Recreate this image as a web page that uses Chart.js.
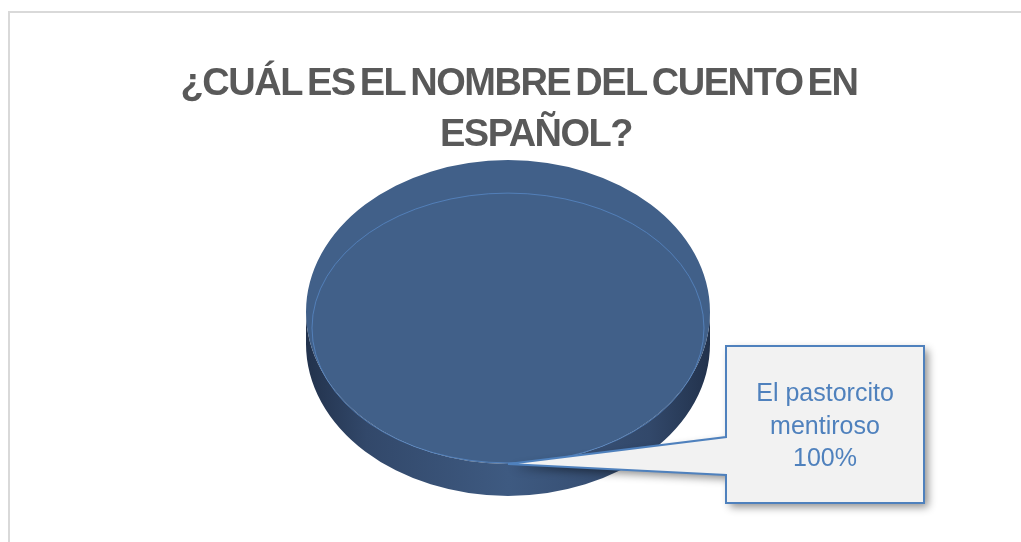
<!DOCTYPE html>
<html>
<head>
<meta charset="utf-8">
<script src="https://cdn.jsdelivr.net/npm/chart.js@4/dist/chart.umd.min.js"></script>
<style>
  html, body { margin: 0; padding: 0; background: #fff; overflow: hidden; }
  #wrap { position: relative; width: 1021px; height: 542px; }
  #frame { position: absolute; left: 8px; top: 11px; width: 1040px; height: 560px; border: 2px solid #d9d9d9; }
  canvas { position: absolute; left: 0; top: 0; }
</style>
</head>
<body>
<div id="wrap">
  <div id="frame"></div>
  <canvas id="pie" width="1021" height="542"></canvas>
</div>
<script>
'use strict';

// ── DATA ───────────────────────────────────────────────────────────────────
const TITLE_LINES = ['¿CUÁL ES EL NOMBRE DEL CUENTO EN', 'ESPAÑOL?'];
const LABELS = ['El pastorcito mentiroso'];
const LABEL_LINES = [['El pastorcito', 'mentiroso']];
const VALUES = [100];

// ── 3D LOOK ────────────────────────────────────────────────────────────────
const TILT = 0.752;   // vertical squash of the pie face
const DEPTH = 32;     // thickness of the side wall
const FACE = '#416089';
const LINE_BLUE = '#4f81bd';

// tight, heavy title like the office chart (lines are not centred alike there)
const chartTitle = {
  id: 'chartTitle',
  beforeDraw(chart) {
    const ctx = chart.ctx;
    const xs = [519, 536];
    const ys = [95, 146];
    ctx.save();
    ctx.font = 'bold 38px "Liberation Sans", Arial, sans-serif';
    ctx.fillStyle = '#595959';
    ctx.textAlign = 'center';
    ctx.textBaseline = 'alphabetic';
    if ('letterSpacing' in ctx) ctx.letterSpacing = '-1.5px';
    if ('wordSpacing' in ctx) ctx.wordSpacing = '-4px';
    TITLE_LINES.forEach((t, i) => ctx.fillText(t, xs[i], ys[i]));
    ctx.restore();
  }
};

const pie3d = {
  id: 'pie3d',
  beforeDatasetsDraw(chart) {
    const ctx = chart.ctx;
    const a = chart.getDatasetMeta(0).data[0];
    const cx = a.x, cy = a.y, rx = a.outerRadius, ry = rx * TILT;

    // side wall, darker toward the edges
    const g = ctx.createLinearGradient(cx - rx, 0, cx + rx, 0);
    g.addColorStop(0, '#22324c');
    g.addColorStop(0.15, '#32486a');
    g.addColorStop(0.5, '#3e5a81');
    g.addColorStop(0.85, '#32486a');
    g.addColorStop(1, '#22324c');
    ctx.save();
    ctx.beginPath();
    ctx.moveTo(cx - rx, cy);
    ctx.lineTo(cx - rx, cy + DEPTH);
    ctx.ellipse(cx, cy + DEPTH, rx, ry, 0, Math.PI, 0, true);
    ctx.lineTo(cx + rx, cy);
    ctx.ellipse(cx, cy, rx, ry, 0, 0, Math.PI, false);
    ctx.closePath();
    ctx.fillStyle = g;
    ctx.fill();
    ctx.restore();

    // squash the face into an ellipse
    ctx.save();
    ctx.translate(0, cy);
    ctx.scale(1, TILT);
    ctx.translate(0, -cy);
  },
  afterDatasetsDraw(chart) {
    const ctx = chart.ctx;
    ctx.restore();
    const a = chart.getDatasetMeta(0).data[0];
    const rx = a.outerRadius, ry = rx * TILT;
    // thin bevel edge on the face
    ctx.save();
    ctx.beginPath();
    ctx.ellipse(a.x, a.y + 16, rx - 6, ry - 17, 0, 0, Math.PI * 2);
    ctx.strokeStyle = 'rgba(88,138,200,0.75)';
    ctx.lineWidth = 1;
    ctx.stroke();
    ctx.restore();
  }
};

// ── CALLOUT LABEL ──────────────────────────────────────────────────────────
const callout = {
  id: 'callout',
  afterDraw(chart) {
    const ctx = chart.ctx;
    const meta = chart.getDatasetMeta(0);
    const total = VALUES.reduce((s, v) => s + v, 0);
    meta.data.forEach((a, i) => {
      const mid = (a.startAngle + a.endAngle) / 2;
      const tipX = a.x + Math.cos(mid) * a.outerRadius;
      const tipY = a.y + Math.sin(mid) * a.outerRadius * TILT;
      const L = 726, T = 346, R = 924, B = 503;

      ctx.save();
      ctx.beginPath();
      ctx.moveTo(L, T);
      ctx.lineTo(R, T);
      ctx.lineTo(R, B);
      ctx.lineTo(L, B);
      ctx.lineTo(L, 475);
      ctx.lineTo(tipX, tipY);
      ctx.lineTo(L, 437);
      ctx.closePath();
      ctx.shadowColor = 'rgba(0,0,0,0.45)';
      ctx.shadowBlur = 8;
      ctx.shadowOffsetX = 4;
      ctx.shadowOffsetY = 4;
      ctx.fillStyle = '#f2f2f2';
      ctx.fill();
      ctx.shadowColor = 'transparent';
      ctx.lineWidth = 2;
      ctx.lineJoin = 'miter';
      ctx.strokeStyle = LINE_BLUE;
      ctx.stroke();

      const lines = LABEL_LINES[i].concat([Math.round(VALUES[i] / total * 100) + '%']);
      ctx.fillStyle = LINE_BLUE;
      ctx.font = '25px "Liberation Sans", Arial, sans-serif';
      ctx.textAlign = 'center';
      ctx.textBaseline = 'alphabetic';
      const midY = (T + B) / 2 + 9;
      lines.forEach((t, k) => {
        ctx.fillText(t, (L + R) / 2, midY + (k - (lines.length - 1) / 2) * 32.5);
      });
      ctx.restore();
    });
  }
};

// ── CHART ──────────────────────────────────────────────────────────────────
new Chart(document.getElementById('pie'), {
  type: 'pie',
  data: {
    labels: LABELS,
    datasets: [{
      data: VALUES,
      backgroundColor: FACE,
      borderWidth: 0,
      clip: false
    }]
  },
  options: {
    responsive: false,
    animation: false,
    radius: 202,
    layout: { padding: { left: 0, right: 5, top: 160, bottom: 78 } },
    plugins: {
      legend: { display: false },
      tooltip: { enabled: false },
      title: { display: false }
    }
  },
  plugins: [chartTitle, pie3d, callout]
});
</script>
</body>
</html>
